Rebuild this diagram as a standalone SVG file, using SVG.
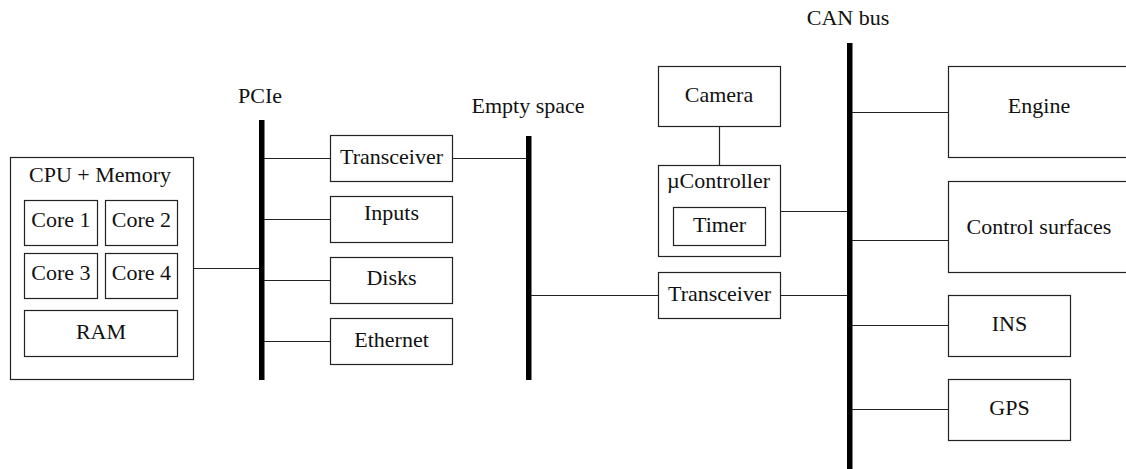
<svg xmlns="http://www.w3.org/2000/svg" width="1126" height="469" viewBox="0 0 1126 469">
  <style>
    .box { fill: #fff; stroke: #222; stroke-width: 1.2; }
    .bus { fill: #000; }
    .wire { stroke: #222; stroke-width: 1.2; fill: none; }
    text { font-family: "Liberation Serif", "Times New Roman", serif; font-size: 22px; fill: #111; text-anchor: middle; }
  </style>
  <rect width="1126" height="469" fill="#fff"/>

  <!-- buses -->
  <g id="bus-pcie">
    <rect class="bus" x="259" y="120" width="5.5" height="260"/>
    <text x="260" y="103">PCIe</text>
  </g>
  <g id="bus-empty">
    <rect class="bus" x="526" y="136" width="5.5" height="244"/>
    <text x="528" y="113">Empty space</text>
  </g>
  <g id="bus-can">
    <rect class="bus" x="847" y="43" width="5.5" height="430"/>
    <text x="848" y="25">CAN bus</text>
  </g>

  <!-- connectors -->
  <g id="connectors">
    <path class="wire" d="M193 268.5 H259"/>
    <path class="wire" d="M264 158.5 H330 M264 219.5 H330 M264 280.5 H330 M264 341.5 H330"/>
    <path class="wire" d="M453 158.5 H526"/>
    <path class="wire" d="M531 295.5 H658"/>
    <path class="wire" d="M719.5 127 V165"/>
    <path class="wire" d="M781 211.5 H847"/>
    <path class="wire" d="M781 295.5 H847"/>
    <path class="wire" d="M852 112.5 H948 M852 240.5 H948 M852 325.5 H948 M852 409.5 H948"/>
  </g>

  <!-- CPU + Memory -->
  <g id="cpu">
    <rect class="box" x="10.5" y="157.5" width="183" height="222"/>
    <text x="100" y="182">CPU + Memory</text>
    <g id="core1">
      <rect class="box" x="24.5" y="200.5" width="73" height="45"/>
      <text x="61" y="227">Core 1</text>
    </g>
    <g id="core2">
      <rect class="box" x="105.5" y="200.5" width="72" height="45"/>
      <text x="141.5" y="227">Core 2</text>
    </g>
    <g id="core3">
      <rect class="box" x="24.5" y="253.5" width="73" height="45"/>
      <text x="61" y="280">Core 3</text>
    </g>
    <g id="core4">
      <rect class="box" x="105.5" y="253.5" width="72" height="45"/>
      <text x="141.5" y="280">Core 4</text>
    </g>
    <g id="ram">
      <rect class="box" x="24.5" y="310.5" width="153" height="46"/>
      <text x="101" y="338.5">RAM</text>
    </g>
  </g>

  <!-- PCIe devices -->
  <g id="transceiver-pcie">
    <rect class="box" x="330.5" y="135.5" width="122" height="46"/>
    <text x="391.5" y="163.5">Transceiver</text>
  </g>
  <g id="inputs">
    <rect class="box" x="330.5" y="196.5" width="122" height="46"/>
    <text x="391.5" y="220">Inputs</text>
  </g>
  <g id="disks">
    <rect class="box" x="330.5" y="257.5" width="122" height="46"/>
    <text x="391.5" y="285">Disks</text>
  </g>
  <g id="ethernet">
    <rect class="box" x="330.5" y="318.5" width="122" height="46"/>
    <text x="391.5" y="346.5">Ethernet</text>
  </g>

  <!-- camera side -->
  <g id="camera">
    <rect class="box" x="658.5" y="66.5" width="122" height="60"/>
    <text x="719" y="102">Camera</text>
  </g>
  <g id="ucontroller">
    <rect class="box" x="658.5" y="165.5" width="122" height="91"/>
    <text x="718.5" y="187.5">µController</text>
    <g id="timer">
      <rect class="box" x="673.5" y="207.5" width="92" height="38"/>
      <text x="719.5" y="232">Timer</text>
    </g>
  </g>
  <g id="transceiver-can">
    <rect class="box" x="658.5" y="272.5" width="122" height="46"/>
    <text x="719.5" y="301">Transceiver</text>
  </g>

  <!-- CAN devices -->
  <g id="engine">
    <rect class="box" x="948.5" y="66.5" width="190" height="91"/>
    <text x="1039" y="113">Engine</text>
  </g>
  <g id="control-surfaces">
    <rect class="box" x="948.5" y="181.5" width="190" height="91"/>
    <text x="1039" y="233.5">Control surfaces</text>
  </g>
  <g id="ins">
    <rect class="box" x="948.5" y="295.5" width="122" height="61"/>
    <text x="1009.5" y="331">INS</text>
  </g>
  <g id="gps">
    <rect class="box" x="948.5" y="379.5" width="122" height="61"/>
    <text x="1009.5" y="415">GPS</text>
  </g>
</svg>
